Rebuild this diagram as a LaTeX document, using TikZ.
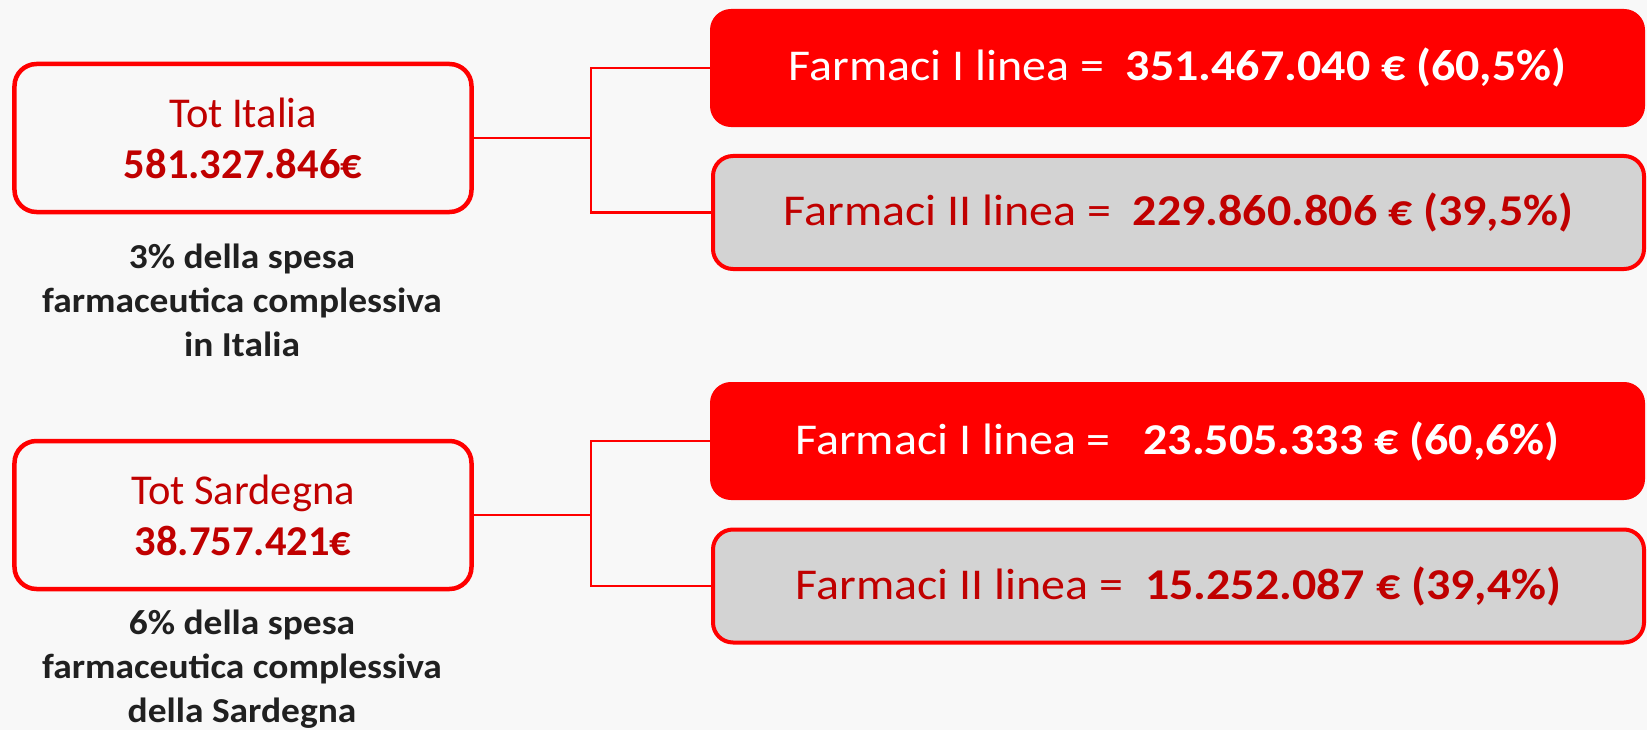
\documentclass[tikz,border=0pt]{standalone}
\usepackage{fontspec}
\setmainfont{Carlito}
\newfontfamily\rfont[FakeStretch=1.09]{Carlito}
\newfontfamily\cfont[FakeStretch=1.07]{Carlito}
\definecolor{bg}{HTML}{F8F8F8}
\definecolor{dred}{HTML}{C00000}
\definecolor{gbox}{HTML}{D3D3D3}
\definecolor{captxt}{HTML}{202020}
\begin{document}
\begin{tikzpicture}[x=1bp,y=-1bp,
 totbox/.style={draw=red, line width=4.5bp, rounded corners=22bp, fill=bg, minimum width=457bp, minimum height=148bp, align=center, text=dred, font=\fontsize{42.5bp}{51bp}\selectfont, inner sep=0pt},
 redbox/.style={draw=red, fill=red, line width=2bp, rounded corners=20bp, minimum width=933bp, minimum height=116bp, text=white, font=\rfont\fontsize{44bp}{50bp}\selectfont, inner sep=0pt},
 graybox/.style={draw=red, fill=gbox, line width=4bp, rounded corners=20bp, minimum width=931bp, minimum height=113bp, text=dred, font=\rfont\fontsize{44bp}{50bp}\selectfont, inner sep=0pt},
 captext/.style={align=center, text=captxt, font=\cfont\bfseries\fontsize{35bp}{44bp}\selectfont, inner sep=0pt},
 conn/.style={draw=red, line width=2.5bp}]
\fill[bg] (0,0) rectangle (1647,730);
\useasboundingbox (0,0) rectangle (1647,730);

% Italia
\node[totbox] (it) at (243,138) {Tot Italia\\\textbf{581.327.846€}};
\node[captext] (itc) at (242,300) {3\% della spesa\\farmaceutica complessiva\\in Italia};
\node[redbox] (r1) at (1177.5,68) {Farmaci I linea =\ \ \textbf{351.467.040 € (60,5\%)}};
\node[graybox] (g1) at (1178.5,212.5) {Farmaci II linea =\ \ \textbf{229.860.806 € (39,5\%)}};
\coordinate (j1) at (591,138);
\draw[conn] (it.east) -- (j1);
\draw[conn] (r1.west) -| (j1) |- (g1.west);

% Sardegna
\node[totbox] (sa) at (243,515) {Tot Sardegna\\\textbf{38.757.421€}};
\node[captext] (sac) at (242,669) {6\% della spesa\\farmaceutica complessiva\\della Sardegna};
\node[redbox] (r2) at (1177.5,441) {Farmaci I linea =\ \ \ \textbf{23.505.333 € (60,6\%)}};
\node[graybox] (g2) at (1178.5,586) {Farmaci II linea =\ \ \textbf{15.252.087 € (39,4\%)}};
\coordinate (j2) at (591,515);
\draw[conn] (sa.east) -- (j2);
\draw[conn] (r2.west) -| (j2) |- (g2.west);
\end{tikzpicture}
\end{document}
